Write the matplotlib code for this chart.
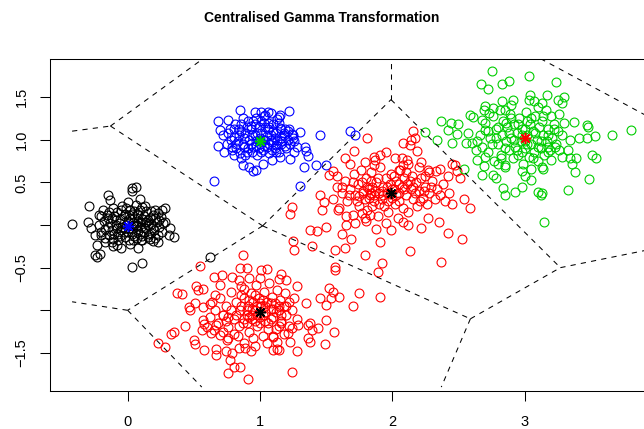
import numpy as np
import matplotlib
matplotlib.use("Agg")
import matplotlib.pyplot as plt

plt.rcParams['font.family'] = ['Liberation Sans', 'DejaVu Sans']

# cluster around (0, 0) - black
black_x = [-0.42, -0.29, -0.30, -0.28, -0.25, -0.23, -0.25, -0.23, -0.21, -0.15, -0.13, 0.03, 0.06, 0.03,
           0.09, 0.28, 0.26, 0.32, 0.35, 0.23, 0.11, 0.08, 0.03, 0.11, -0.08, -0.11, -0.05, -0.17, -0.20,
           -0.22, -0.20, 0.18, 0.21, 0.28, 0.31,
           -0.18, -0.15, -0.12, -0.10, -0.08, -0.06, -0.05, -0.03, -0.02, 0.00, 0.01, 0.02, 0.03, 0.05,
           0.06, 0.07, 0.08, 0.10, 0.11, 0.12, 0.13, 0.15, 0.16, 0.18, 0.19, 0.20, 0.22, 0.24, 0.25, -0.20,
           -0.16, -0.14, -0.11, -0.09, -0.07, -0.04, -0.01, 0.02, 0.04, 0.06, 0.09, 0.10, 0.14, 0.17, 0.21,
           0.23, 0.27, -0.19, -0.13, -0.06, 0.00, 0.04, 0.08, 0.12, 0.15, -0.02, -0.08, 0.03, 0.07, -0.04,
           0.01, 0.11, 0.05, -0.10, -0.17, 0.19, 0.26, -0.22, 0.00, -0.12, 0.13, 0.02, 0.62,
           -0.17, -0.14, -0.11, -0.09, -0.07, -0.05, -0.03, -0.01, 0.01, 0.03, 0.05, 0.07, 0.09, 0.11,
           0.13, 0.15, 0.17, 0.19, 0.21, 0.23, -0.12, -0.02, 0.08, 0.18, -0.15, 0.05, 0.14, -0.06, 0.10,
           0.24]
black_y = [0.01, 0.22, 0.03, -0.04, -0.12, -0.23, -0.35, -0.38, -0.34, 0.35, 0.29, 0.43, 0.45, 0.40,
           0.30, 0.20, 0.18, -0.04, -0.14, -0.20, -0.18, -0.27, -0.49, -0.45, -0.23, -0.25, -0.27, -0.20,
           -0.12, 0.12, 0.10, 0.16, 0.08, 0.04, -0.12,
           0.05, -0.02, 0.08, -0.10, 0.15, 0.02, -0.06, 0.10, -0.14, 0.05, -0.03, 0.18, -0.10, 0.08,
           -0.01, 0.13, -0.07, 0.03, -0.13, 0.10, -0.04, 0.06, -0.10, 0.01, 0.12, -0.06, 0.04, -0.02, 0.09,
           -0.08, 0.12, -0.12, 0.20, 0.00, -0.18, 0.22, 0.00, 0.08, -0.18, 0.24, 0.18, -0.02, 0.16, -0.16,
           0.18, -0.12, 0.02, 0.18, 0.02, 0.07, -0.08, 0.02, 0.05, -0.08, 0.00, 0.13, -0.03, -0.05, 0.00,
           -0.02, 0.12, 0.07, -0.13, 0.10, -0.15, -0.19, -0.08, 0.00, 0.27, -0.20, 0.22, -0.22, -0.38,
           -0.05, 0.15, -0.16, 0.06, -0.11, 0.17, -0.08, 0.20, -0.18, 0.13, 0.16, -0.15, -0.11, 0.21,
           0.03, -0.14, 0.08, -0.03, -0.15, 0.14, -0.06, -0.04, 0.12, -0.09, 0.08, 0.00, 0.04, -0.13, -0.17,
           0.06]

# cluster around (1, 1) - blue
blue_x = [0.85, 0.68, 0.76, 0.96, 1.01, 1.06, 1.04, 1.08, 1.15, 1.14, 1.22, 1.16, 1.21, 1.25, 1.30,
          1.45, 1.34, 1.35, 1.36, 1.26, 1.23, 1.33, 1.42, 1.50, 1.30, 0.65, 1.68, 1.72, 0.68, 0.72, 0.70,
          0.73, 0.80, 0.87, 0.92, 0.97, 0.95, 1.02, 1.09, 1.15, 0.86,
          0.78, 0.80, 0.82, 0.84, 0.86, 0.87, 0.89, 0.90, 0.91, 0.92, 0.93, 0.95, 0.96, 0.97, 0.98, 0.99,
          1.00, 1.01, 1.02, 1.03, 1.04, 1.05, 1.06, 1.07, 1.08, 1.09, 1.10, 1.11, 1.12, 1.13, 1.14, 1.15,
          1.16, 1.18, 1.20, 1.21, 1.23, 1.24, 1.26, 1.28, 0.75, 0.76, 0.79, 0.81, 0.83, 0.85, 0.88, 0.90,
          0.94, 0.97, 1.00, 1.02, 0.99, 1.05, 1.07, 1.09, 1.11, 0.93, 0.96, 1.03, 0.86, 1.17, 1.19, 0.88,
          1.01, 0.94, 1.12, 0.80, 1.25, 1.14,
          0.77, 0.82, 0.87, 0.91, 0.95, 0.98, 1.01, 1.04, 1.07, 1.10, 1.13, 1.16, 1.19, 1.22, 0.84, 0.89,
          0.93, 0.99, 1.06, 1.12, 1.18, 0.79, 0.97, 1.08, 1.03]
blue_y = [1.35, 1.22, 1.23, 1.32, 1.32, 1.33, 1.29, 1.31, 1.29, 1.27, 1.34, 1.13, 1.10, 1.06, 1.09,
          1.05, 0.92, 0.87, 0.81, 0.85, 0.77, 0.68, 0.70, 0.70, 0.46, 0.51, 1.10, 1.05, 0.93, 1.05, 1.11,
          0.85, 0.82, 0.70, 0.68, 0.64, 0.63, 0.71, 0.76, 0.80, 0.78,
          1.00, 1.12, 0.90, 1.05, 1.18, 0.95, 1.08, 0.85, 1.22, 1.00, 1.12, 0.92, 1.05, 1.25, 0.82, 1.15,
          0.95, 1.08, 0.88, 1.20, 1.00, 0.92, 1.12, 0.84, 1.05, 0.97, 1.18, 0.90, 1.08, 1.00, 0.86, 1.14,
          0.95, 1.05, 0.90, 1.00, 0.95, 1.07, 0.98, 0.92, 0.95, 1.08, 0.88, 1.18, 0.98, 0.84, 1.02, 1.15,
          1.05, 0.98, 1.02, 1.00, 0.90, 1.04, 1.15, 0.88, 1.02, 0.95, 1.18, 0.93, 1.10, 0.98, 1.12, 0.92,
          1.22, 0.86, 0.94, 1.03, 1.02, 1.20,
          1.12, 0.95, 1.25, 0.90, 1.22, 1.08, 0.86, 1.15, 0.95, 1.10, 1.24, 1.02, 0.93, 1.12, 1.12, 0.82,
          1.16, 1.00, 1.20, 0.85, 1.08, 0.92, 0.93, 1.00, 1.28]

# two red clusters: around (1, -1) and around (2, 0.4)
red_x = [0.87, 0.55, 0.85, 0.90, 0.65, 0.71, 0.79, 1.01, 1.05, 1.16, 1.20, 1.14, 1.28, 0.37, 0.41,
         0.52, 0.53, 0.57, 0.66, 0.46, 0.47, 0.51, 0.57, 0.62, 0.43, 0.35, 0.33, 0.23, 0.28, 0.50, 0.51,
         0.58, 0.57, 0.58, 0.56, 0.67, 0.74, 0.79, 0.84, 0.76, 0.80, 0.85, 0.91, 0.77, 0.93, 0.96, 0.89,
         1.10, 1.13, 1.23, 1.28, 1.24, 1.35, 1.29, 1.36, 1.38, 1.39, 1.36, 1.38, 1.45, 1.50, 1.52, 1.55,
         1.60, 1.54, 1.44, 1.50, 1.56, 1.49, 1.16, 1.21, 1.24, 1.10, 1.13, 1.14, 0.72, 0.74, 0.67, 0.65,
         0.63, 0.70, 0.76, 0.67, 1.75, 1.70, 1.91,
         0.70, 0.72, 0.74, 0.76, 0.78, 0.80, 0.82, 0.83, 0.85, 0.86, 0.87, 0.88, 0.90, 0.91, 0.92, 0.93,
         0.94, 0.95, 0.96, 0.97, 0.98, 0.99, 1.00, 1.01, 1.02, 1.03, 1.04, 1.05, 1.06, 1.07, 1.08, 1.09,
         1.10, 1.11, 1.12, 1.13, 1.14, 1.15, 1.16, 1.18, 1.19, 1.20, 1.22, 1.24, 1.26, 1.28, 0.66, 0.68,
         0.64, 0.62, 0.60, 0.75, 0.80, 0.88, 0.95, 1.05, 1.10, 1.18, 0.84, 0.92, 1.00, 0.90, 0.94, 0.98,
         1.02, 0.96, 1.04, 0.88, 1.08, 0.92, 1.00, 0.86, 0.78, 1.14, 1.22, 0.72, 0.70,
         0.82, 0.86, 0.90, 0.94, 0.98, 1.02, 1.06, 1.10, 1.14, 0.84, 0.92, 1.00, 1.08, 1.16, 0.76, 0.88,
         0.96, 1.04, 1.12, 1.20,
         1.81, 1.71, 1.64, 1.68, 1.52, 1.55, 1.58, 2.16, 2.14, 2.17, 2.08, 2.13, 2.19, 1.91, 1.87, 1.86,
         1.79, 2.07, 2.11, 2.08, 2.05, 2.22, 2.27, 2.33, 2.36, 2.45, 2.47, 2.49, 2.42, 2.51, 2.43, 2.45,
         2.54, 2.59, 1.24, 1.23, 1.38, 1.43, 1.50, 1.25, 1.26, 1.39, 1.57, 1.64, 1.57, 1.57, 1.79, 1.91,
         1.92, 1.89, 2.13, 2.37, 2.42, 2.53, 1.45, 1.48, 1.47, 1.59, 1.65, 1.62, 1.69, 1.77, 1.79, 1.83,
         1.99, 2.08, 2.12, 2.22, 2.27, 2.35,
         1.55, 1.58, 1.60, 1.62, 1.64, 1.66, 1.68, 1.70, 1.71, 1.72, 1.74, 1.75, 1.76, 1.78, 1.79, 1.80,
         1.81, 1.82, 1.83, 1.84, 1.85, 1.86, 1.87, 1.88, 1.89, 1.90, 1.91, 1.92, 1.93, 1.94, 1.95, 1.96,
         1.97, 1.98, 1.99, 2.00, 2.01, 2.02, 2.03, 2.04, 2.05, 2.06, 2.07, 2.08, 2.09, 2.10, 2.11, 2.12,
         2.14, 2.15, 2.16, 2.18, 2.19, 2.20, 2.22, 2.23, 2.25, 2.26, 2.28, 2.30, 2.32, 2.34, 2.36, 2.38,
         2.40, 1.65, 1.72, 1.80, 1.88, 1.95, 1.86, 1.95, 2.02, 2.12, 2.20, 2.28, 1.78, 1.84, 1.82, 1.86,
         1.92, 2.00, 1.75, 1.98, 2.05,
         1.62, 1.67, 1.73, 1.77, 1.81, 1.85, 1.89, 1.93, 1.97, 2.01, 2.05, 2.09, 2.13, 2.17, 2.21, 2.25,
         2.29, 1.70, 1.84, 1.90, 1.96, 2.03, 2.10, 2.16, 2.24]
red_y = [-0.35, -0.48, -0.50, -0.50, -0.61, -0.59, -0.61, -0.53, -0.52, -0.57, -0.64, -0.63, -0.71,
         -0.80, -0.81, -0.72, -0.76, -0.75, -0.82, -0.96, -1.00, -0.92, -0.96, -0.93, -1.18, -1.26,
         -1.28, -1.38, -1.43, -1.35, -1.40, -1.46, -1.11, -1.16, -1.23, -1.52, -1.48, -1.50, -1.44,
         -1.74, -1.67, -1.66, -1.80, -1.58, -1.48, -1.42, -1.44, -1.46, -1.45, -1.37, -1.48, -1.72,
         -0.92, -1.17, -1.17, -1.15, -1.23, -1.33, -1.37, -0.86, -0.94, -0.74, -0.78, -0.84, -0.86,
         -1.21, -1.11, -1.26, -1.39, -1.15, -1.27, -1.21, -1.31, -1.37, -1.47, -1.05, -1.13, -1.17,
         -1.23, -1.27, -1.29, -1.33, -1.45, -0.80, -0.95, -0.84,
         -0.85, -1.05, -0.95, -1.20, -0.78, -1.10, -0.90, -1.30, -1.00, -0.72, -1.15, -0.85, -1.05,
         -0.95, -1.25, -0.80, -1.10, -0.90, -1.00, -0.70, -1.18, -0.85, -1.08, -0.95, -1.30, -0.78,
         -1.02, -0.90, -1.15, -0.68, -0.98, -0.84, -1.08, -0.92, -1.22, -0.76, -1.00, -0.88, -1.12,
         -0.95, -0.80, -1.05, -0.90, -1.00, -0.85, -1.10, -1.00, -1.15, -0.90, -1.08, -1.20, -1.35,
         -1.28, -1.38, -1.32, -1.38, -1.30, -1.28, -0.65, -0.62, -0.62, -1.00, -1.05, -0.95, -1.05,
         -1.12, -0.95, -1.10, -1.10, -0.88, -0.92, -0.95, -1.00, -1.18, -1.18, -1.25, -0.70,
         -1.05, -0.82, -1.15, -0.98, -1.05, -0.88, -1.22, -0.98, -0.95, -1.18, -1.08, -1.15, -0.92,
         -1.05, -1.08, -0.75, -0.82, -1.12, -1.02, -0.95,
         1.02, 0.87, 0.78, 0.72, 0.59, 0.63, 0.57, 1.10, 1.00, 1.02, 0.96, 0.94, 0.87, 0.82, 0.76, 0.70,
         0.74, 0.78, 0.76, 0.70, 0.64, 0.74, 0.64, 0.63, 0.66, 0.72, 0.70, 0.63, 0.57, 0.55, 0.37, 0.25,
         0.31, 0.20, 0.21, 0.13, -0.06, -0.07, -0.02, -0.19, -0.29, -0.25, -0.29, -0.27, -0.49, -0.53,
         -0.35, -0.20, -0.45, -0.55, -0.30, -0.43, -0.09, -0.16, 0.35, 0.27, 0.18, 0.18, 0.00, -0.10,
         -0.16, 0.14, 0.08, 0.12, -0.06, 0.04, 0.00, -0.04, 0.08, 0.04,
         0.30, 0.45, 0.20, 0.38, 0.52, 0.28, 0.42, 0.12, 0.60, 0.35, 0.48, 0.22, 0.65, 0.40, 0.30, 0.55,
         0.18, 0.42, 0.35, 0.62, 0.45, 0.28, 0.40, 0.50, 0.10, 0.38, 0.68, 0.30, 0.45, 0.22, 0.55, 0.38,
         0.15, 0.48, 0.60, 0.32, 0.42, 0.25, 0.52, 0.08, 0.38, 0.65, 0.45, 0.20, 0.55, 0.35, 0.48, 0.15,
         0.42, 0.58, 0.30, 0.50, 0.22, 0.40, 0.55, 0.32, 0.45, 0.25, 0.38, 0.52, 0.30, 0.42, 0.35, 0.48,
         0.28, 0.10, 0.02, 0.05, -0.05, 0.02, 0.80, 0.85, 0.78, 0.72, 0.68, 0.62, 0.38, 0.38, 0.32, 0.35,
         0.40, 0.42, 0.34, 0.36, 0.48,
         0.45, 0.35, 0.28, 0.50, 0.45, 0.22, 0.55, 0.35, 0.28, 0.58, 0.28, 0.42, 0.52, 0.38, 0.28, 0.58,
         0.45, 0.50, 0.52, 0.25, 0.45, 0.35, 0.62, 0.45, 0.40]

# cluster around (3, 1) - green
green_x = [2.75, 3.03, 3.24, 2.67, 2.72, 2.83, 2.88, 3.30, 3.25, 3.28, 3.04, 3.03, 3.07, 3.13, 3.17,
           2.83, 2.91, 2.90, 2.85, 2.76, 2.70, 2.69, 2.73, 2.59, 2.61, 2.68, 2.37, 2.44, 2.50, 2.25, 2.34,
           2.42, 2.49, 2.45, 2.57, 2.56, 2.60, 2.64, 2.70, 2.63, 2.64, 2.70, 2.69, 2.68, 2.76, 2.78, 2.54,
           2.84, 2.85, 2.93, 2.98, 3.10, 3.12, 3.13, 3.15, 3.33, 3.00, 3.05, 3.13, 3.14, 3.37, 3.47, 3.48,
           3.66, 3.80, 3.34, 3.41, 3.47, 3.53, 3.33, 3.28, 3.34, 3.39, 3.51, 3.54, 3.36, 3.38, 3.49, 3.23,
           3.18, 3.20, 3.05, 2.98, 2.85, 2.80,
           2.66, 2.68, 2.70, 2.72, 2.74, 2.76, 2.77, 2.78, 2.80, 2.81, 2.82, 2.83, 2.84, 2.85, 2.86, 2.87,
           2.88, 2.89, 2.90, 2.91, 2.92, 2.93, 2.94, 2.95, 2.96, 2.97, 2.98, 2.99, 3.00, 3.01, 3.02, 3.03,
           3.04, 3.05, 3.06, 3.07, 3.08, 3.09, 3.10, 3.11, 3.12, 3.13, 3.14, 3.15, 3.16, 3.17, 3.18, 3.19,
           3.20, 3.21, 3.22, 3.24, 3.25, 3.26, 3.28, 3.30, 2.75, 2.88, 2.92, 3.02, 3.08, 2.95, 3.12, 2.85,
           3.18, 3.05, 2.80, 3.00, 2.98, 3.10,
           2.78, 2.86, 2.94, 3.02, 3.10, 3.18, 3.26, 2.82, 2.90, 2.98, 3.06, 3.14, 3.22, 2.72, 3.00]
green_y = [1.80, 1.75, 1.68, 1.65, 1.60, 1.65, 1.69, 1.50, 1.47, 1.43, 1.52, 1.47, 1.45, 1.43, 1.52,
           1.45, 1.46, 1.41, 1.35, 1.37, 1.39, 1.35, 1.31, 1.29, 1.27, 1.23, 1.22, 1.20, 1.18, 1.09, 1.00,
           1.11, 1.07, 0.96, 1.08, 0.96, 0.96, 0.98, 1.11, 0.88, 0.76, 0.80, 0.69, 0.59, 0.59, 0.55, 0.66,
           0.43, 0.35, 0.39, 0.45, 0.39, 0.35, 0.38, 0.04, 0.41, 0.57, 0.53, 0.68, 0.66, 1.21, 1.17, 1.15,
           1.06, 1.11, 1.00, 1.02, 1.02, 1.04, 0.88, 0.80, 0.79, 0.79, 0.82, 0.79, 0.71, 0.62, 0.54, 0.92,
           0.86, 0.76, 0.66, 0.63, 0.68, 0.72,
           1.05, 0.92, 1.20, 0.85, 1.02, 1.28, 0.75, 1.12, 0.95, 1.35, 0.82, 1.05, 1.22, 0.70, 0.98, 1.15,
           0.88, 1.30, 1.02, 0.78, 1.18, 0.92, 1.08, 0.82, 1.25, 0.98, 1.12, 0.72, 0.90, 1.32, 1.05, 0.80,
           1.18, 0.95, 1.10, 0.85, 1.28, 1.00, 0.75, 1.15, 0.90, 1.22, 1.05, 0.82, 1.35, 0.98, 1.12, 0.88,
           1.28, 1.02, 1.18, 0.95, 1.10, 1.30, 1.05, 1.20, 0.95, 1.08, 1.00, 0.95, 1.08, 1.18, 0.98, 0.90,
           0.92, 1.25, 1.15, 1.12, 0.85, 1.38,
           1.02, 1.20, 0.88, 1.22, 0.92, 1.05, 0.88, 0.78, 1.25, 1.05, 0.78, 1.28, 1.12, 1.10, 0.98]

# cluster centres (asterisks) and their colours
centre_x = [0.00, 1.00, 1.00, 1.99, 3.00]
centre_y = [-0.01, 0.98, -1.02, 0.37, 1.02]
centre_col = ['#0000FF', '#00CD00', 'black', 'black', '#FF0000']

# tessellation edges (x0, y0, x1, y1)
edges = [(-0.42, 1.10, -0.13, 1.16), (-0.13, 1.16, 0.57, 1.95), (-0.13, 1.16, 1.02, -0.01),
         (1.02, -0.01, 1.99, 1.47), (1.99, 1.47, 1.99, 1.95), (1.02, -0.01, 0.00, -1.00),
         (0.00, -1.00, -0.42, -0.90), (0.00, -1.00, 0.56, -1.90), (1.02, -0.01, 2.59, -1.10),
         (2.59, -1.10, 2.37, -1.90), (2.59, -1.10, 3.27, -0.50), (3.27, -0.50, 3.97, -0.28),
         (1.99, 1.47, 3.27, -0.50), (3.12, 1.95, 3.97, 1.24)]

fig = plt.figure(figsize=(6.44, 4.29), dpi=100)
ax = fig.add_axes([50 / 644, 38 / 429, 603 / 644, 332 / 429])

mk = dict(marker='o', linestyle='none', markersize=6.4, markerfacecolor='none', markeredgewidth=0.8)
ax.plot(black_x, black_y, markeredgecolor='black', **mk)
ax.plot(blue_x, blue_y, markeredgecolor='#0000FF', **mk)
ax.plot(red_x, red_y, markeredgecolor='#FF0000', **mk)
ax.plot(green_x, green_y, markeredgecolor='#00CD00', **mk)

for x0, y0, x1, y1 in edges:
    ax.plot([x0, x1], [y0, y1], color='black', linewidth=0.75, dashes=(5, 5))

for cx, cy, cc in zip(centre_x, centre_y, centre_col):
    ax.plot(cx, cy, marker=(8, 2, 0), markersize=8, markeredgecolor=cc, markeredgewidth=1.1, linestyle='none')

ax.set_xlim(-0.587, 3.97)
ax.set_ylim(-1.946, 1.946)

ax.set_xticks([0, 1, 2, 3])
ax.set_xticklabels(['0', '1', '2', '3'])
ax.set_yticks([-1.5, -1.0, -0.5, 0.0, 0.5, 1.0, 1.5])
ax.set_yticklabels(['\u22121.5', '', '\u22120.5', '', '0.5', '1.0', '1.5'], rotation=90, va='center')
ax.tick_params(axis='both', length=7.5, width=0.75, labelsize=10.5, direction='out')
ax.tick_params(axis='x', pad=10)
ax.tick_params(axis='y', pad=8)
for s in ax.spines.values():
    s.set_linewidth(0.75)

fig.text(0.5, 1 - 18 / 429, 'Centralised Gamma Transformation', ha='center', va='center',
         fontsize=10, fontweight='bold')

fig.savefig('out.png', dpi=100)
